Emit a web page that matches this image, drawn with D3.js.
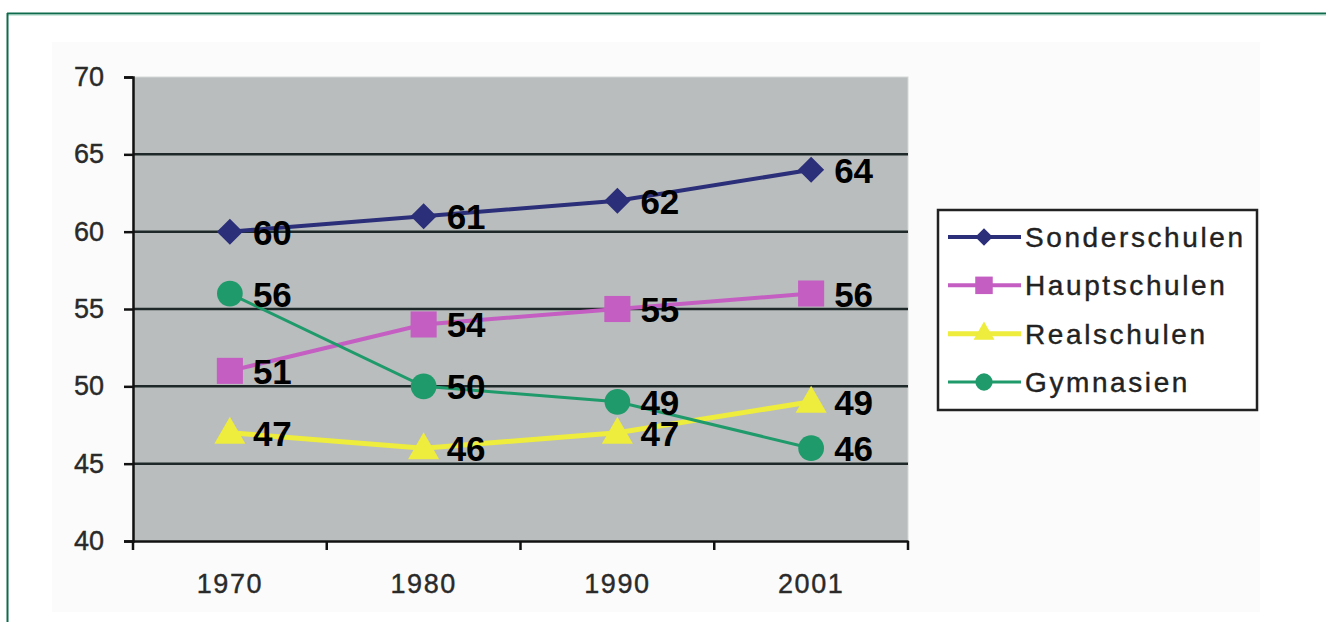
<!DOCTYPE html>
<html><head><meta charset="utf-8">
<script src="https://cdn.jsdelivr.net/npm/d3@7"></script>
<style>html,body{margin:0;padding:0;background:#fff;}svg{display:block;}</style>
</head><body>
<script>
const categories = ["1970", "1980", "1990", "2001"];
const seriesNames = ["Sonderschulen", "Hauptschulen", "Realschulen", "Gymnasien"];
const sonderschulen = [60, 61, 62, 64];
const hauptschulen = [51, 54, 55, 56];
const realschulen = [47, 46, 47, 49];
const gymnasien = [56, 50, 49, 46];
const yTicks = [40, 45, 50, 55, 60, 65, 70];

const diamondSq = { draw(ctx, size) { const r = Math.sqrt(size / 2);
  ctx.moveTo(0, -r); ctx.lineTo(r, 0); ctx.lineTo(0, r); ctx.lineTo(-r, 0); ctx.closePath(); } };

const colors = ["#2b2e78", "#c45ec2", "#eeec3c", "#1f9a6b"];
const shapes = [diamondSq, d3.symbolSquare, d3.symbolTriangle, d3.symbolCircle];
const symSizes = [340, 680, 420, 520];
const lineW = [4, 4, 5, 3];
const values = [sonderschulen, hauptschulen, realschulen, gymnasien];
const FONT = "Liberation Sans, Arial, sans-serif";

const W = 1326, H = 622;
const svg = d3.select("body").append("svg").attr("width", W).attr("height", H);

// frame
svg.append("rect").attr("x", 52).attr("y", 42).attr("width", 1208).attr("height", 570).attr("fill", "#fbfbfb");
svg.append("line").attr("x1", 7).attr("x2", W).attr("y1", 13.5).attr("y2", 13.5).attr("stroke", "#0e6b4c").attr("stroke-width", 2);
svg.append("line").attr("x1", 7).attr("x2", W).attr("y1", 15).attr("y2", 15).attr("stroke", "#9fd3bf").attr("stroke-width", 1);
svg.append("line").attr("x1", 7.5).attr("x2", 7.5).attr("y1", 13).attr("y2", H).attr("stroke", "#0e6b4c").attr("stroke-width", 2);

const L = 133, R = 908, T = 77, B = 541;
const x = d3.scaleBand().domain(categories).range([L, R]);
const y = d3.scaleLinear().domain([40, 70]).range([B, T]);

svg.append("rect").attr("x", L).attr("y", T).attr("width", R - L).attr("height", B - T)
  .attr("fill", "#b9bdbd").attr("stroke", "#d6d8d8").attr("stroke-width", 1);

// gridlines
svg.append("g").selectAll("line").data(yTicks.filter(v => v > 40 && v < 70)).join("line")
  .attr("x1", L).attr("x2", R).attr("y1", d => y(d)).attr("y2", d => y(d))
  .attr("stroke", "#1e2828").attr("stroke-width", 2.5);

// y axis
const yAxis = d3.axisLeft(y).tickValues(yTicks).tickSize(9).tickPadding(20).tickFormat(d3.format("d"));
const gy = svg.append("g").attr("transform", `translate(${L},0)`).call(yAxis);
gy.select(".domain").attr("stroke", "#111").attr("stroke-width", 2.5);
gy.selectAll(".tick line").attr("stroke", "#111").attr("stroke-width", 2.5);
gy.selectAll("text").attr("font-family", FONT).attr("font-size", 27)
  .attr("fill", "#2a2a2a").attr("stroke", "#2a2a2a").attr("stroke-width", 0.4);

// x axis
const xAxis = d3.axisBottom(x).tickSize(0).tickPadding(33);
const gx = svg.append("g").attr("transform", `translate(0,${B})`).call(xAxis);
gx.select(".domain").attr("stroke", "#111").attr("stroke-width", 2.5);
gx.selectAll("text").attr("font-family", FONT).attr("font-size", 27)
  .attr("letter-spacing", 1.5).attr("fill", "#2a2a2a").attr("stroke", "#2a2a2a").attr("stroke-width", 0.4);
const bounds = categories.map(c => x(c)).concat([x(categories[categories.length - 1]) + x.bandwidth()]);
gx.selectAll(".bt").data(bounds).join("line").attr("class", "bt")
  .attr("x1", d => d).attr("x2", d => d).attr("y1", 0).attr("y2", 9)
  .attr("stroke", "#111").attr("stroke-width", 2.5);

const cx = c => x(c) + x.bandwidth() / 2;
const line = d3.line().x((d, i) => cx(categories[i])).y(d => y(d));

values.forEach((vals, s) => {
  const g = svg.append("g");
  g.append("path").datum(vals).attr("d", line).attr("fill", "none")
    .attr("stroke", colors[s]).attr("stroke-width", lineW[s]);
  g.selectAll("path.m").data(vals).join("path").attr("class", "m")
    .attr("d", d3.symbol().type(shapes[s]).size(symSizes[s]))
    .attr("transform", (d, i) => `translate(${cx(categories[i])},${y(d) + (s === 2 ? 2 : 0)})`)
    .attr("fill", colors[s]);
});
values.forEach((vals, s) => {
  svg.append("g").selectAll("text").data(vals).join("text")
    .attr("x", (d, i) => cx(categories[i]) + 23)
    .attr("y", d => y(d) + 13)
    .attr("font-family", FONT).attr("font-weight", "bold")
    .attr("font-size", 35).attr("fill", "#000").text(d => d);
});

// legend
const lg = svg.append("g");
lg.append("rect").attr("x", 938).attr("y", 210).attr("width", 319).attr("height", 200)
  .attr("fill", "#fff").attr("stroke", "#222").attr("stroke-width", 2.5);
const legY = d3.scalePoint().domain(seriesNames).range([237, 382]);
seriesNames.forEach((n, s) => {
  const yy = legY(n);
  lg.append("line").attr("x1", 948).attr("x2", 1021).attr("y1", yy).attr("y2", yy)
    .attr("stroke", colors[s]).attr("stroke-width", lineW[s]);
  lg.append("path").attr("d", d3.symbol().type(shapes[s]).size(symSizes[s] * 0.45))
    .attr("transform", `translate(984,${yy})`).attr("fill", colors[s]);
  lg.append("text").attr("x", 1025).attr("y", yy + 10).text(n)
    .attr("font-family", FONT).attr("font-size", 28)
    .attr("letter-spacing", 2.6).attr("fill", "#222").attr("stroke", "#222").attr("stroke-width", 0.4);
});
</script>
</body></html>
